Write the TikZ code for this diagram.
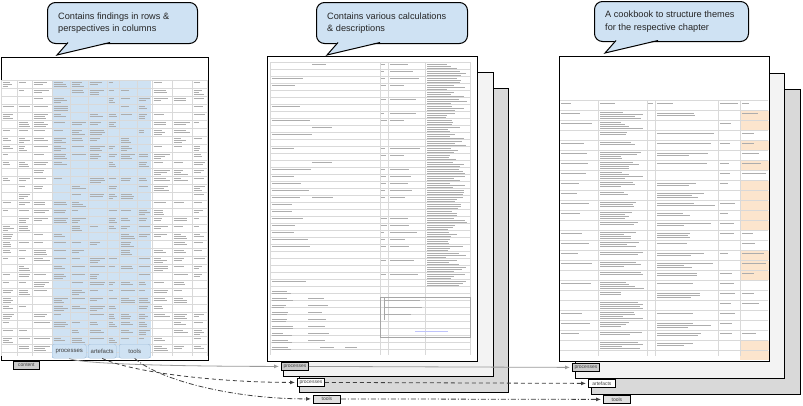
\documentclass[tikz,border=0pt]{standalone}
\usepackage{fontspec}
\setmainfont{Liberation Sans}
\usetikzlibrary{arrows.meta}
\definecolor{callfill}{HTML}{CFE2F3}
\definecolor{colblue}{HTML}{CFE2F3}
\definecolor{tabedge}{HTML}{9FBEDC}
\definecolor{pagemid}{HTML}{F3F3F3}
\definecolor{pageback}{HTML}{D9D9D9}
\definecolor{tabgray}{HTML}{CCCCCC}
\definecolor{tablight}{HTML}{E0E0E0}
\definecolor{cellorange}{HTML}{FCE5CD}
\definecolor{linkgray}{HTML}{9A9A9A}
\newcommand\sheetbars[4]{\foreach \k in {1,...,#4}{\pgfmathsetmacro\ll{(#3)*(0.45+0.55*rnd)}\draw[tbar] (#1,{#2+(\k-1)*2.1}) -- ++(\ll pt,0);}}
\begin{document}
\begin{tikzpicture}[x=1pt,y=-1pt,
  page/.style={draw=black,line width=1pt,inner sep=0pt,anchor=north west},
  callout/.style={draw=black,line width=1pt,fill=callfill,rounded corners=8pt,anchor=north west,inner sep=0pt},
  calltext/.style={anchor=west,align=left,inner sep=0pt,font=\fontsize{9.2}{12.3}\selectfont,text=black!85},
  tbar/.style={line width=0.75pt,black!32},
  grid/.style={line width=0.3pt,black!15},
  btab/.style={draw=tabedge,fill=colblue,rounded corners=2pt,inner sep=0pt,anchor=north west,
     minimum height=14pt,font=\fontsize{6}{7}\selectfont,text=black!75},
  ltab/.style={draw=black,line width=0.8pt,inner sep=0pt,anchor=north west,minimum width=27pt,
     minimum height=8pt,font=\fontsize{5}{6}\selectfont,text=black!75},
  link1/.style={linkgray,line width=0.8pt,-{Latex[length=5pt,width=4pt]},shorten >=2pt},
  link2/.style={black!75,line width=0.8pt,dash pattern=on 4pt off 3pt,-{Latex[length=5pt,width=4pt]},shorten >=2pt},
  link3/.style={black!75,line width=0.8pt,dash pattern=on 5pt off 2pt on 1pt off 2pt,-{Latex[length=5pt,width=4pt]},shorten >=2pt}
]
\pgfmathsetseed{11}
\useasboundingbox (0,0) rectangle (803,405);
\fill[white] (0,0) rectangle (803,405);

% ---------------- panel 1 ----------------
\node[page,fill=white,minimum width=207pt,minimum height=303pt] (p1) at (1,57) {};
\fill[colblue] (52,80) rectangle (151,358);
\foreach \cx in {1,17,32,52,70,88,107,119,137,152,172,192,207} \draw[grid] (\cx,80) -- (\cx,356);
\foreach \ry in {80,88,...,352} \draw[grid] (1,\ry) -- (207,\ry);
\foreach \ry in {81,89,...,345} {
  \foreach \cx/\cw in {1/15,17/15,32/20,52/18,70/18,88/19,107/12,119/18,137/15,152/20,172/20,192/15} {
    \pgfmathtruncatemacro\nn{rnd<0.25?0:1+2.99*rnd}
    \ifnum\nn>0 \sheetbars{\cx+1.5}{\ry+1.2}{\cw-3}{\nn}\fi
  }
}

% ---------------- panel 2 ----------------
\node[page,fill=pageback,minimum width=209pt,minimum height=304pt] (p2c) at (299,88) {};
\node[page,fill=pagemid,minimum width=210pt,minimum height=304pt] (p2b) at (283,72) {};
\node[page,fill=white,minimum width=210pt,minimum height=305pt] (p2a) at (267,56) {};
\foreach \cx in {270,380,388,425,470} \draw[grid] (\cx,62) -- (\cx,355);
\foreach \ry in {62,69,...,355} \draw[grid] (270,\ry) -- (470,\ry);
\foreach \ry in {63,70,...,280} {
  \pgfmathtruncatemacro\na{rnd<0.45?0:1}
  \ifnum\na>0 \sheetbars{272}{\ry+1.5}{40}{1}\fi
  \pgfmathtruncatemacro\nb{rnd<0.88?0:1}
  \ifnum\nb>0 \sheetbars{312}{\ry+1.5}{22}{1}\fi
  \pgfmathtruncatemacro\nc{rnd<0.4?0:1}
  \ifnum\nc>0 \sheetbars{381}{\ry+1.5}{6}{1}\sheetbars{390}{\ry+1.5}{30}{1}\fi
  \sheetbars{427}{\ry+1}{40}{3}
}
\foreach \ry in {290,297,...,350} {
  \sheetbars{272}{\ry+1.5}{22}{2}
  \pgfmathtruncatemacro\nb{rnd<0.5?0:1}
  \ifnum\nb>0 \sheetbars{308}{\ry+1.5}{22}{1}\fi
}
\draw[black!35,line width=0.4pt] (380,297) rectangle (470,337);
\foreach \ry in {300,307,314} \sheetbars{384}{\ry}{60}{1}
\draw[black!35] (384,298) -- (384,320);
\draw[callfill!60!blue!50,line width=1pt] (415,331) -- (448,331);
\sheetbars{345}{347}{20}{1}\sheetbars{320}{347}{18}{1}

% ---------------- panel 3 ----------------
\node[page,fill=pageback,minimum width=209pt,minimum height=305pt] (p3c) at (591,89) {};
\node[page,fill=pagemid,minimum width=209pt,minimum height=305pt] (p3b) at (575,73) {};
\node[page,fill=white,minimum width=210pt,minimum height=305pt] (p3a) at (559,56) {};
\foreach \ry in {112,122,...,352} {
  \pgfmathtruncatemacro\no{rnd<0.55?0:1}
  \ifnum\no>0 \fill[cellorange] (740,\ry-1) rectangle (768.5,\ry+8);\fi
}
\foreach \cx in {598,647,655,718,740} \draw[grid] (\cx,100) -- (\cx,356);
\foreach \ry in {100,110,...,356} \draw[grid] (560,\ry) -- (768,\ry);
\sheetbars{561}{103}{14}{1}\sheetbars{600}{103}{16}{1}\sheetbars{648}{103}{6}{1}
\sheetbars{657}{103}{30}{1}\sheetbars{720}{103}{18}{1}\sheetbars{742}{103}{14}{1}
\foreach \ry in {112,122,...,350} {
  \pgfmathtruncatemacro\na{rnd<0.2?0:1}
  \ifnum\na>0 \sheetbars{561}{\ry+1}{32}{1}\fi
  \pgfmathtruncatemacro\nb{2+2.99*rnd}
  \sheetbars{600}{\ry+0.5}{45}{\nb}
  \pgfmathtruncatemacro\nc{rnd<0.2?0:1+2.99*rnd}
  \ifnum\nc>0 \sheetbars{657}{\ry+1}{58}{\nc}\fi
  \pgfmathtruncatemacro\nd{rnd<0.3?0:1}
  \ifnum\nd>0 \sheetbars{720}{\ry+1}{16}{1}\fi
  \pgfmathtruncatemacro\ne{rnd<0.35?0:1}
  \ifnum\ne>0 \sheetbars{742}{\ry+1.5}{24}{1}\fi
}

% ---------------- callouts ----------------
\node[callout,minimum width=150pt,minimum height=41pt] (c1) at (47,2) {};
\fill[callfill] (68,42) -- (57,55) -- (110,42) -- cycle;
\draw[line width=1pt,line join=miter] (68,42.5) -- (57,55) -- (110,42.5);
\node[calltext] (t1) at ([xshift=11pt]c1.west) {Contains findings in rows \&\\perspectives in columns};
\node[callout,minimum width=151pt,minimum height=41pt] (c2) at (316,2) {};
\fill[callfill] (338,42) -- (327,55) -- (380,42) -- cycle;
\draw[line width=1pt,line join=miter] (338,42.5) -- (327,55) -- (380,42.5);
\node[calltext] (t2) at ([xshift=11pt]c2.west) {Contains various calculations\\\& descriptions};
\node[callout,minimum width=154pt,minimum height=40pt] (c3) at (594,1) {};
\fill[callfill] (616,40) -- (605,53) -- (658,40) -- cycle;
\draw[line width=1pt,line join=miter] (616,40.5) -- (605,53) -- (658,40.5);
\node[calltext] (t3) at ([xshift=11pt]c3.west) {A cookbook to structure themes\\for the respective chapter};

% ---------------- tabs ----------------
\node[btab,minimum width=34pt] (proc1) at (52,344) {processes};
\node[btab,minimum width=28pt] (art1) at (88,344) {artefacts};
\node[btab,minimum width=31pt] (tool1) at (119,344) {tools};
\node[ltab,fill=tabgray,minimum width=26pt] (cont) at (13,361) {content};

\node[ltab,fill=tabgray] (p2t1) at (281,362) {processes};
\node[ltab,fill=white] (p2t2) at (297,378) {processes};
\node[ltab,fill=tablight] (p2t3) at (313,394.5) {tools};
\node[ltab,fill=tabgray] (p3t1) at (572,363) {processes};
\node[ltab,fill=white] (p3t2) at (588,379) {artefacts};
\node[ltab,fill=tablight] (p3t3) at (603,395) {tools};

% ---------------- connectors ----------------
\draw[link1] (proc1.south) .. controls +(10,6) and +(-90,0) .. (p2t1.west);
\draw[link2] (art1.south) .. controls +(30,14) and +(-80,0) .. (p2t2.west);
\draw[link3] (tool1.south) .. controls +(25,22) and +(-80,0) .. (p2t3.west);
\draw[link1] (p2t1.east) -- (p3t1.west);
\draw[link2] (p2t2.east) -- (p3t2.west);
\draw[link3] (p2t3.east) -- (p3t3.west);
\end{tikzpicture}
\end{document}
